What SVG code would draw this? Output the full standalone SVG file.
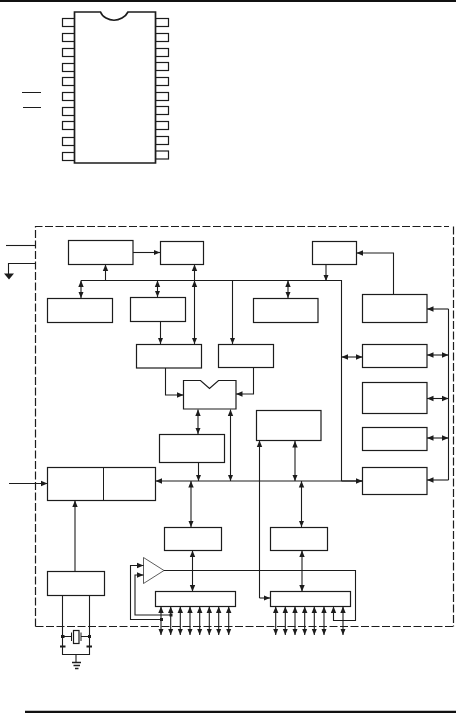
<svg xmlns="http://www.w3.org/2000/svg" width="456" height="713" viewBox="0 0 456 713">
<style>
.b{fill:#fff;stroke:#1c1c1c;stroke-width:1.200}
.p{fill:#fff;stroke:#1c1c1c;stroke-width:1.200}
.c path{fill:none;stroke:#1c1c1c;stroke-width:1.100}
.a{marker-end:url(#ah)}
.d{marker-start:url(#ah);marker-end:url(#ah)}
.s{marker-start:url(#ah)}
.dash{fill:none;stroke:#1c1c1c;stroke-width:1.200;stroke-dasharray:8 2.500}
</style>
<defs>
<marker id="ah" markerUnits="userSpaceOnUse" markerWidth="8" markerHeight="7" refX="6.500" refY="3.500" orient="auto-start-reverse"><path d="M0,0.800L6.500,3.500L0,6.200Z" fill="#1c1c1c"/></marker>
</defs>
<rect width="456" height="713" fill="#fff"/>
<path d="M0,1H456" stroke="#111" stroke-width="2"/>
<path d="M25,712H456" stroke="#111" stroke-width="2.500"/>

<g id="chip">
<g id="chip-pins">
<rect class="p" x="62.500" y="18.500" width="13" height="8"/><rect class="p" x="62.500" y="33.500" width="13" height="8"/><rect class="p" x="62.500" y="48.500" width="13" height="8"/><rect class="p" x="62.500" y="63.500" width="13" height="8"/><rect class="p" x="62.500" y="77.500" width="13" height="8"/><rect class="p" x="62.500" y="92.500" width="13" height="8"/><rect class="p" x="62.500" y="107.500" width="13" height="8"/><rect class="p" x="62.500" y="121.500" width="13" height="8"/><rect class="p" x="62.500" y="137.500" width="13" height="8"/><rect class="p" x="62.500" y="152.500" width="13" height="8"/>
<rect class="p" x="155.500" y="18.500" width="13" height="8"/><rect class="p" x="155.500" y="33.500" width="13" height="8"/><rect class="p" x="155.500" y="48.500" width="13" height="8"/><rect class="p" x="155.500" y="62.500" width="13" height="8"/><rect class="p" x="155.500" y="77.500" width="13" height="8"/><rect class="p" x="155.500" y="92.500" width="13" height="8"/><rect class="p" x="155.500" y="106.500" width="13" height="8"/><rect class="p" x="155.500" y="121.500" width="13" height="8"/><rect class="p" x="155.500" y="136.500" width="13" height="8"/><rect class="p" x="155.500" y="151" width="13" height="8"/>
</g>
<path d="M74.500,12H100.500Q102,16 106,18Q114,22.500 122,18Q126,16 128,12H155.500V163H74.500Z" fill="#fff" stroke="#1c1c1c" stroke-width="1.700"/>
</g>
<path id="overbars" d="M22,92.500H41M23,107.500H41" stroke="#1c1c1c" stroke-width="1" fill="none"/>

<g id="boundary"><path class="dash" d="M35.500,626.500V226.500H449"/><path class="dash" d="M453.500,226.500V626.500M35.500,626.500H453.500"/></g>

<g id="n-a"><rect class="b" x="68.500" y="240.500" width="64.500" height="24"/></g>
<g id="n-b"><rect class="b" x="160.500" y="241.500" width="43" height="23"/></g>
<g id="n-c"><rect class="b" x="312.500" y="241.500" width="44" height="23"/></g>
<g id="n-d"><rect class="b" x="47.500" y="298.500" width="65" height="24"/></g>
<g id="n-e"><rect class="b" x="130.500" y="297.500" width="55" height="24"/></g>
<g id="n-v"><rect class="b" x="253.500" y="298.500" width="64.500" height="24"/></g>
<g id="n-f"><rect class="b" x="136.500" y="344.500" width="65" height="23.500"/></g>
<g id="n-g"><rect class="b" x="218.500" y="344.500" width="55" height="23"/></g>
<g id="n-h"><path class="b" d="M183.500,380.500H200.500L209.500,388.500L218.500,380.500H236V409H183.500Z"/></g>
<g id="n-i"><rect class="b" x="159.500" y="434.500" width="65" height="28"/></g>
<g id="n-j"><rect class="b" x="256.500" y="410.500" width="64.500" height="30"/></g>
<g id="n-k"><rect class="b" x="47.500" y="467.500" width="108" height="33"/><path d="M103.500,467.500V500.500" stroke="#1c1c1c" fill="none"/></g>
<g id="n-l"><rect class="b" x="164.500" y="527.500" width="57" height="23"/></g>
<g id="n-m"><rect class="b" x="270.500" y="527.500" width="57" height="23"/></g>
<g id="n-n"><rect class="b" x="47.500" y="571.500" width="57" height="24"/></g>
<g id="n-o"><rect class="b" x="155.500" y="591.500" width="80" height="15"/></g>
<g id="n-p"><rect class="b" x="270.500" y="591.500" width="80" height="15"/></g>
<g id="n-q"><rect class="b" x="362.500" y="294.500" width="64.500" height="28"/></g>
<g id="n-r"><rect class="b" x="362.500" y="344.500" width="64.500" height="23"/></g>
<g id="n-s"><rect class="b" x="362.500" y="382.500" width="64.500" height="31"/></g>
<g id="n-t"><rect class="b" x="362.500" y="427.500" width="64.500" height="23"/></g>
<g id="n-u"><rect class="b" x="362.500" y="467.500" width="64.500" height="27"/></g>
<g id="n-amp"><path d="M143.500,557.500L164,570.500L143.500,583.500Z" fill="#fff" stroke="#333" stroke-width="0.800"/></g>
<g id="n-crystal">
<rect class="b" x="73.500" y="630.500" width="5.500" height="13"/>
<path d="M71.500,632.500V641M81,632.500V641" stroke="#1c1c1c" fill="none"/>
</g>

<g id="connectors" class="c">
<path d="M6,245.500H35.500"/>
<path d="M35.500,263.500H8.500V274"/>
<path d="M4,273.500H14L9,279.500Z" style="fill:#1c1c1c;stroke:none"/>
<path class="a" d="M133,252.500H160"/>
<path d="M81,280.500H341.500V481"/>
<path class="a" d="M105.500,280.500V264.500"/>
<path class="d" d="M81,280.500V298"/>
<path class="d" d="M157.500,280.500V297"/>
<path class="d" d="M194.500,264.500V344"/>
<path class="s" d="M194.500,280.500V281"/>
<path class="a" d="M160.500,321.500V344"/>
<path class="a" d="M232.500,280.500V344"/>
<path class="a" d="M326,264.500V281"/>
<path class="d" d="M288,280.500V298"/>
<path class="a" d="M165.500,368V395H183.500"/>
<path class="a" d="M253.500,367.500V394H236"/>
<path class="a" d="M393.500,294.500V253H356.500"/>
<path class="a" d="M448.500,309H427"/>
<path d="M448.500,309V480"/>
<path class="d" d="M427,355H448.500"/>
<path class="d" d="M427,398.500H448.500"/>
<path class="d" d="M427,438H448.500"/>
<path class="a" d="M448.500,480H427"/>
<path class="d" d="M341.500,357H362.500"/>
<path class="a" d="M362.500,481H155.500"/>
<path class="a" d="M341.500,481H362.500"/>
<path class="d" d="M198,409.500V434"/>
<path class="a" d="M198.500,462.500V481"/>
<path class="d" d="M230.500,409.500V481"/>
<path class="d" d="M191,481V527"/>
<path class="d" d="M192.500,550.500V591.500"/>
<path class="a" d="M259.500,598H270"/>
<path class="a" d="M259.500,598V440.500"/>
<path class="d" d="M295,441V481"/>
<path class="d" d="M301.500,481V527"/>
<path class="d" d="M302,550.500V591.500"/>
<path class="a" d="M75,571.500V500.500"/>
<path class="a" d="M9,483.500H47.500"/>
<path class="a" d="M164,570.500H355.500V620.500H333.500V606.500"/>
<path class="a" d="M161.500,619.500H130.500V565.500H143.500"/>
<path class="a" d="M171,615H135V575H143.500"/>
<path d="M160,618h3v3h-3ZM169.500,613.500h3v3h-3Z" style="fill:#1c1c1c;stroke:none"/>
<path class="d" d="M161,606.500V635"/><path class="d" d="M170.700,606.500V635"/><path class="d" d="M180.300,606.500V635"/><path class="d" d="M190,606.500V635"/><path class="d" d="M199.700,606.500V635"/><path class="d" d="M209.300,606.500V635"/><path class="d" d="M218.700,606.500V635"/><path class="d" d="M228.700,606.500V635"/>
<path class="d" d="M275.700,606.500V635"/><path class="d" d="M285.300,606.500V635"/><path class="d" d="M295,606.500V635"/><path class="d" d="M304.700,606.500V635"/><path class="d" d="M314.300,606.500V635"/><path class="d" d="M324,606.500V635"/><path class="d" d="M343,606.500V635"/>
<path d="M62.500,595.500V654.500H89.500V595.500"/>
<path d="M62.500,636.500H71.500M81,636.500H89.500"/>
<path d="M76,654.500V662"/>
<path style="stroke-width:1.500" d="M72,662.500H81M73.500,665.500H80M75,668.500H78.500"/>
<path style="stroke-width:2" d="M60,646.500H65.500M86.500,646.500H92"/>
<path d="M61,635h3.500v3h-3.500ZM88,635h3v3h-3Z" style="fill:#1c1c1c;stroke:none"/>
</g>
</svg>
